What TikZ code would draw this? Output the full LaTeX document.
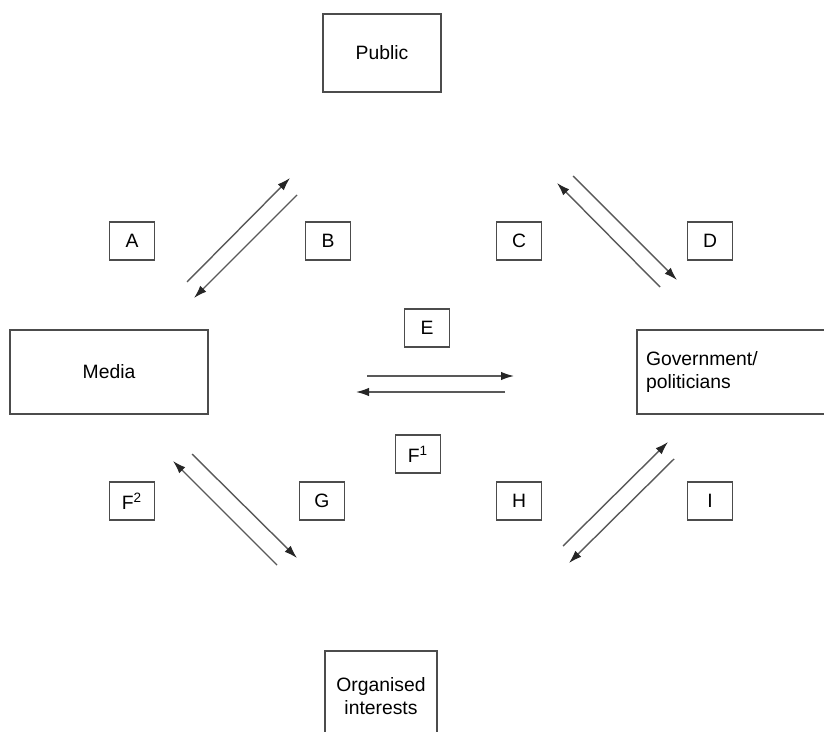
\documentclass[tikz,border=0pt]{standalone}
\usepackage{fontspec}
\setmainfont{Liberation Sans}
\usetikzlibrary{arrows.meta}
\tikzset{
    bignode/.style = {rectangle, draw=black!70, line width=1pt, align=center,font=\fontsize{11}{13}\selectfont},
    lblnode/.style = {rectangle, draw=black!70, line width=1pt, minimum width=0.9cm, minimum height=0.76cm, inner sep=0pt,font=\fontsize{11}{13}\selectfont},
    edgen/.style = {-{Latex[length=2.6mm,width=1.7mm,black!85]},line width=0.8pt,draw=black!65}
}

\begin{document}
\begin{tikzpicture}
\useasboundingbox (0,0) rectangle (16.48,-14.64);
\node[bignode, minimum width=2.36cm, minimum height=1.56cm] at (7.64,-1.06) (public) {Public};
\node[bignode, minimum width=3.96cm, minimum height=1.68cm] at (2.18,-7.44) (media) {Media};
\node[bignode, minimum width=3.86cm, minimum height=1.68cm, text width=3.5cm, align=left] at (14.67,-7.44) (govt) {Government/\\politicians};
\node[bignode, minimum width=2.24cm, minimum height=1.80cm] at (7.62,-13.92) (orgint) {Organised\\interests};
%
\node[lblnode] at (2.64,-4.82) (a) {A};
\node[lblnode] at (6.56,-4.82) (b) {B};
\node[lblnode] at (10.38,-4.82) (c) {C};
\node[lblnode] at (14.20,-4.82) (d) {D};
\node[lblnode] at (8.54,-6.56) (e) {E};
\node[lblnode] at (8.36,-9.08) (f1) {F\textsuperscript{1}};
\node[lblnode] at (2.64,-10.02) (f2) {F\textsuperscript{2}};
\node[lblnode] at (6.44,-10.02) (g) {G};
\node[lblnode] at (10.38,-10.02) (h) {H};
\node[lblnode] at (14.20,-10.02) (i) {I};
%
\coordinate (mp1) at (3.74,-5.64);  \coordinate (mp2) at (5.80,-3.56);
\coordinate (pm1) at (5.94,-3.90);  \coordinate (pm2) at (3.88,-5.96);
\coordinate (gp1) at (13.20,-5.74); \coordinate (gp2) at (11.14,-3.66);
\coordinate (pg1) at (11.46,-3.52); \coordinate (pg2) at (13.54,-5.60);
\coordinate (mg1) at (7.34,-7.52);  \coordinate (mg2) at (10.28,-7.52);
\coordinate (gm1) at (10.10,-7.84); \coordinate (gm2) at (7.12,-7.84);
\coordinate (om1) at (5.54,-11.30); \coordinate (om2) at (3.46,-9.22);
\coordinate (mo1) at (3.84,-9.08);  \coordinate (mo2) at (5.94,-11.16);
\coordinate (og1) at (11.26,-10.92); \coordinate (og2) at (13.36,-8.84);
\coordinate (go1) at (13.48,-9.18); \coordinate (go2) at (11.38,-11.26);
%
\draw[edgen] (mp1) -- (mp2);
\draw[edgen] (pm1) -- (pm2);
\draw[edgen] (gp1) -- (gp2);
\draw[edgen] (pg1) -- (pg2);
\draw[edgen] (mg1) -- (mg2);
\draw[edgen] (gm1) -- (gm2);
\draw[edgen] (om1) -- (om2);
\draw[edgen] (mo1) -- (mo2);
\draw[edgen] (og1) -- (og2);
\draw[edgen] (go1) -- (go2);

\end{tikzpicture}
\end{document}
